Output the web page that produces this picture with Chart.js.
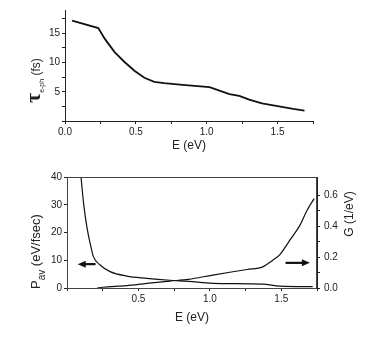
<!DOCTYPE html>
<html>
<head>
<meta charset="utf-8">
<script src="https://cdn.jsdelivr.net/npm/chart.js@4.4.1/dist/chart.umd.min.js"></script>
<style>
body { margin: 0; background: #fff; }
#wrap { position: relative; width: 374px; height: 340px; }
.panel { position: absolute; left: 0; }
</style>
</head>
<body>
<div id="wrap">
  <div class="panel" style="top:0;width:374px;height:165px"><canvas id="tauChart" width="374" height="165"></canvas></div>
  <div class="panel" style="top:165px;width:374px;height:175px"><canvas id="powerChart" width="374" height="175"></canvas></div>
</div>
<script>
// top panel: electron-phonon time vs energy
const tauE   = [0.05, 0.235, 0.28, 0.35, 0.42, 0.49, 0.56, 0.63, 0.70, 0.83, 1.02, 1.16, 1.23, 1.30, 1.39, 1.51, 1.61, 1.69];
const tauVal = [17.2, 15.9, 14.1, 11.8, 10.1, 8.6, 7.4, 6.7, 6.5, 6.2, 5.8, 4.6, 4.3, 3.65, 3.0, 2.5, 2.06, 1.77];

// bottom panel: average power (left axis) and G (right axis)
const pE   = [0.098, 0.116, 0.139, 0.162, 0.185, 0.232, 0.302, 0.418, 0.558, 0.72, 0.85, 1.02, 1.37, 1.49, 1.72];
const pVal = [40, 30.6, 22, 16.1, 11.3, 8.3, 5.9, 4.3, 3.5, 2.8, 2.4, 1.7, 1.4, 0.7, 0.5];
const gE   = [0.21, 0.25, 0.418, 0.558, 0.72, 0.85, 1.02, 1.26, 1.37, 1.44, 1.49, 1.56, 1.63, 1.68, 1.73];
const gVal = [0, 0.005, 0.015, 0.03, 0.045, 0.056, 0.084, 0.12, 0.137, 0.18, 0.217, 0.31, 0.406, 0.503, 0.58];

// tick positions
const eTicks   = [0, 0.25, 0.5, 0.75, 1.0, 1.25, 1.5, 1.75];
const tauTicks = [0, 2.5, 5, 7.5, 10, 12.5, 15, 17.5];
const pTicks   = [0, 10, 20, 30, 40];
const gTicks   = [0, 0.1, 0.2, 0.3, 0.4, 0.5, 0.6];

// arrows [E, value]
const leftArrow  = { from: [0.2, 8.6], to: [0.075, 8.6] };
const rightArrow = { from: [1.53, 0.163], to: [1.70, 0.163] };

const ink = '#222';
const tickFont = { family: 'Liberation Sans, Arial, sans-serif', size: 10 };

function pts(xs, ys) { return xs.map((x, i) => ({ x: x, y: ys[i] })); }
function setTicks(list) { return scale => { scale.ticks = list.map(v => ({ value: v })); }; }
function every(step, digits) {
  return v => Math.abs(v / step - Math.round(v / step)) < 1e-6 ? v.toFixed(digits) : '';
}
const axisGrid = { drawOnChartArea: false, tickLength: 3, color: ink };

function drawParts(ctx, x, y, parts, center) {
  ctx.save();
  ctx.translate(x, y);
  ctx.rotate(-Math.PI / 2);
  ctx.fillStyle = ink;
  ctx.textBaseline = 'alphabetic';
  ctx.textAlign = 'left';
  let total = 0;
  parts.forEach(p => { ctx.font = p.font; total += ctx.measureText(p.text).width; });
  let pos = center ? -total / 2 : 0;
  parts.forEach(p => {
    ctx.font = p.font;
    ctx.fillText(p.text, pos, p.dy || 0);
    pos += ctx.measureText(p.text).width;
  });
  ctx.restore();
}

const tauTitle = {
  id: 'tauTitle',
  afterDraw(chart) {
    drawParts(chart.ctx, 40, 103, [
      { text: 'τ', font: 'bold 22px "Liberation Serif", serif' },
      { text: 'e-ph', font: '7px "Liberation Sans", Arial', dy: 4 },
      { text: ' (fs)', font: '12px "Liberation Sans", Arial' }
    ]);
  }
};

function arrow(ctx, x1, y1, x2, y2) {
  const dir = Math.sign(x2 - x1);
  ctx.beginPath();
  ctx.moveTo(x1, y1);
  ctx.lineTo(x2 - dir * 6, y2);
  ctx.stroke();
  ctx.beginPath();
  ctx.moveTo(x2, y2);
  ctx.lineTo(x2 - dir * 8, y2 - 3.5);
  ctx.lineTo(x2 - dir * 8, y2 + 3.5);
  ctx.closePath();
  ctx.fill();
}

const powerDecor = {
  id: 'powerDecor',
  afterDraw(chart) {
    const ctx = chart.ctx, a = chart.chartArea;
    const x = chart.scales.x, yl = chart.scales.yP, yr = chart.scales.yG;
    ctx.save();
    ctx.strokeStyle = '#444';
    ctx.lineWidth = 1;
    ctx.strokeRect(a.left + 0.5, a.top + 0.5, a.right - a.left - 1, a.bottom - a.top);
    ctx.strokeStyle = '#111';
    ctx.fillStyle = '#111';
    ctx.lineWidth = 2.2;
    arrow(ctx, x.getPixelForValue(leftArrow.from[0]), yl.getPixelForValue(leftArrow.from[1]),
               x.getPixelForValue(leftArrow.to[0]), yl.getPixelForValue(leftArrow.to[1]));
    arrow(ctx, x.getPixelForValue(rightArrow.from[0]), yr.getPixelForValue(rightArrow.from[1]),
               x.getPixelForValue(rightArrow.to[0]), yr.getPixelForValue(rightArrow.to[1]));
    ctx.restore();
    drawParts(ctx, 40, 124, [
      { text: 'P', font: '13px "Liberation Sans", Arial' },
      { text: 'av', font: '10px "Liberation Sans", Arial', dy: 5 },
      { text: ' (eV/fsec)', font: '13px "Liberation Sans", Arial' }
    ]);
    drawParts(ctx, 353, 49, [
      { text: 'G (1/eV)', font: '12px "Liberation Sans", Arial' }
    ], true);
  }
};

new Chart(document.getElementById('tauChart').getContext('2d'), {
  type: 'line',
  data: {
    datasets: [{
      data: pts(tauE, tauVal),
      borderColor: '#111',
      borderWidth: 1.8,
      pointRadius: 0,
      tension: 0,
      fill: false
    }]
  },
  options: {
    responsive: false,
    animation: false,
    layout: { padding: { top: 10, right: 61, left: 0, bottom: 0 } },
    plugins: { legend: { display: false }, tooltip: { enabled: false } },
    scales: {
      x: {
        type: 'linear', min: 0, max: 1.75,
        afterBuildTicks: setTicks(eTicks),
        afterFit: s => { s.height = 44; },
        grid: axisGrid,
        border: { color: ink },
        ticks: { callback: every(0.5, 1), font: tickFont, color: ink, padding: 2, maxRotation: 0, autoSkip: false },
        title: { display: true, text: 'E (eV)', color: ink, font: { family: 'Liberation Sans, Arial', size: 12 }, padding: { top: 0, bottom: 12 } }
      },
      y: {
        type: 'linear', min: 0, max: 19,
        afterBuildTicks: setTicks(tauTicks),
        afterFit: s => { s.width = 65; },
        grid: axisGrid,
        border: { color: ink },
        ticks: { callback: v => (v > 0 && v % 5 === 0 ? String(v) : ''), font: tickFont, color: ink, padding: 2, autoSkip: false }
      }
    }
  },
  plugins: [tauTitle]
});

new Chart(document.getElementById('powerChart').getContext('2d'), {
  type: 'line',
  data: {
    datasets: [{
      data: pts(pE, pVal),
      yAxisID: 'yP',
      borderColor: '#111',
      borderWidth: 1.2,
      pointRadius: 0,
      cubicInterpolationMode: 'monotone',
      fill: false
    }, {
      data: pts(gE, gVal),
      yAxisID: 'yG',
      borderColor: '#111',
      borderWidth: 1.2,
      pointRadius: 0,
      cubicInterpolationMode: 'monotone',
      fill: false
    }]
  },
  options: {
    responsive: false,
    animation: false,
    layout: { padding: { top: 12, right: 0, left: 0, bottom: 0 } },
    plugins: { legend: { display: false }, tooltip: { enabled: false } },
    scales: {
      x: {
        type: 'linear', min: 0, max: 1.75,
        afterBuildTicks: setTicks(eTicks),
        afterFit: s => { s.height = 52; },
        grid: axisGrid,
        border: { color: ink },
        ticks: { callback: v => (v > 0 ? every(0.5, 1)(v) : ''), font: tickFont, color: ink, padding: 2, maxRotation: 0, autoSkip: false },
        title: { display: true, text: 'E (eV)', color: ink, font: { family: 'Liberation Sans, Arial', size: 12 }, padding: { top: 0, bottom: 15 } }
      },
      yP: {
        type: 'linear', position: 'left', min: 0, max: 40,
        afterBuildTicks: setTicks(pTicks),
        afterFit: s => { s.width = 67; },
        grid: axisGrid,
        border: { color: ink },
        ticks: { font: tickFont, color: ink, padding: 2, autoSkip: false }
      },
      yG: {
        type: 'linear', position: 'right', min: 0, max: 0.72,
        afterBuildTicks: setTicks(gTicks),
        afterFit: s => { s.width = 57; },
        grid: axisGrid,
        border: { color: ink },
        ticks: { callback: every(0.2, 1), font: tickFont, color: ink, padding: 4, autoSkip: false }
      }
    }
  },
  plugins: [powerDecor]
});
</script>
</body>
</html>
